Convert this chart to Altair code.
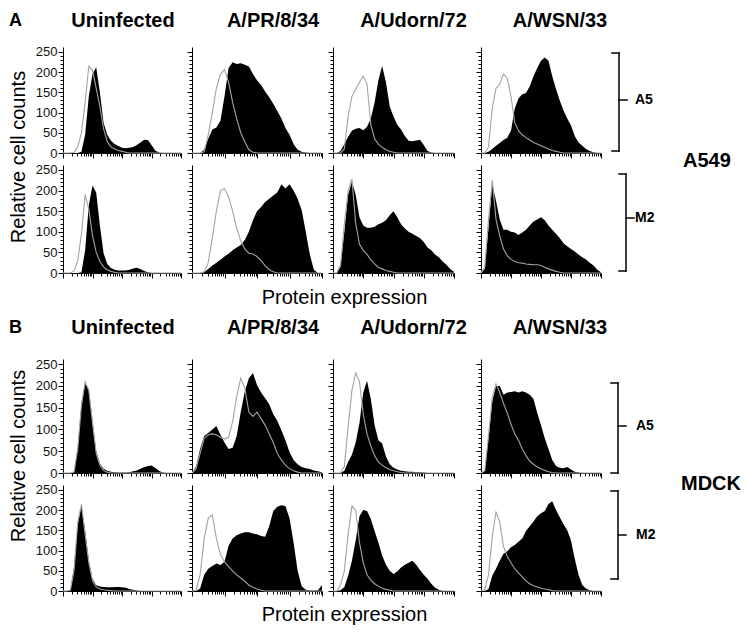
import pandas as pd
import altair as alt

# ---------------- data ----------------
# histogram bin centres on a log10 fluorescence axis (10^0 .. 10^4)
BINS = [0.0, 0.125, 0.25, 0.375, 0.5, 0.625, 0.75, 0.875,
        1.0, 1.125, 1.25, 1.375, 1.5, 1.625, 1.75, 1.875,
        2.0, 2.125, 2.25, 2.375, 2.5, 2.625, 2.75, 2.875,
        3.0, 3.125, 3.25, 3.375, 3.5, 3.625, 3.75, 3.875,
        4.0]

COLUMNS = ["Uninfected", "A/PR/8/34", "A/Udorn/72", "A/WSN/33"]
Y_TICKS = [0, 10, 20, 30, 40, 50, 60, 70, 80, 90, 100, 110, 120, 130, 140,
           150, 160, 170, 180, 190, 200, 210, 220, 230, 240, 250]
LOG_MINOR = [0.0, 0.301, 0.477, 0.602, 0.699, 0.778, 0.845, 0.903, 0.954]
X_TICKS = [d + m for d in range(4) for m in LOG_MINOR] + [4.0]

# A549 / A5
a549_a5_uninf_fill = [0, 0, 0, 0, 0, 3, 45, 140, 195, 212, 150, 75, 45, 30, 22, 17,
                      13, 12, 13, 15, 20, 26, 33, 32, 20, 6, 1, 0, 0, 0, 0, 0, 0]
a549_a5_uninf_ctrl = [0, 0, 0, 2, 15, 50, 125, 215, 205, 160, 115, 60, 28, 15, 10, 6,
                      4, 2, 0, 0, 0, 0, 0, 0, 0, 0, 0, 0, 0, 0, 0, 0, 0]
a549_a5_pr8_fill = [0, 0, 0, 8, 35, 58, 63, 80, 140, 210, 224, 220, 222, 218, 214, 195,
                    180, 168, 152, 138, 122, 104, 85, 62, 45, 22, 8, 3, 1, 0, 0, 0, 0]
a549_a5_pr8_ctrl = [0, 0, 0, 3, 45, 100, 160, 195, 206, 175, 125, 85, 50, 28, 8, 2,
                    0, 0, 0, 0, 0, 0, 0, 0, 0, 0, 0, 0, 0, 0, 0, 0, 0]
a549_a5_udorn_fill = [0, 0, 5, 22, 40, 55, 60, 62, 56, 65, 85, 125, 180, 215, 175, 115,
                      90, 70, 58, 42, 30, 29, 31, 33, 20, 5, 1, 0, 0, 0, 0, 0, 0]
a549_a5_udorn_ctrl = [0, 0, 0, 10, 90, 140, 158, 175, 190, 170, 70, 35, 22, 14, 8, 4,
                      2, 0, 0, 0, 0, 0, 0, 0, 0, 0, 0, 0, 0, 0, 0, 0, 0]
a549_a5_wsn_fill = [0, 0, 3, 10, 18, 25, 32, 38, 55, 110, 135, 145, 148, 165, 190, 210,
                    228, 236, 228, 190, 158, 130, 105, 85, 68, 42, 26, 18, 10, 5, 2, 0, 0]
a549_a5_wsn_ctrl = [0, 0, 15, 110, 160, 170, 195, 185, 140, 75, 55, 45, 38, 32, 26, 22,
                    18, 14, 10, 6, 4, 2, 0, 0, 0, 0, 0, 0, 0, 0, 0, 0, 0]

# A549 / M2
a549_m2_uninf_fill = [0, 0, 0, 0, 0, 2, 55, 165, 212, 195, 115, 48, 22, 12, 8, 6,
                      6, 6, 8, 11, 13, 10, 5, 2, 0, 0, 0, 0, 0, 0, 0, 0, 0]
a549_m2_uninf_ctrl = [0, 0, 0, 5, 30, 95, 190, 155, 90, 50, 28, 15, 8, 4, 2, 0,
                      0, 0, 0, 0, 0, 0, 0, 0, 0, 0, 0, 0, 0, 0, 0, 0, 0]
a549_m2_pr8_fill = [0, 0, 0, 2, 10, 18, 25, 32, 40, 47, 55, 62, 68, 80, 100, 128,
                    150, 160, 172, 180, 188, 195, 215, 205, 215, 200, 180, 152, 100, 45, 8, 0, 0]
a549_m2_pr8_ctrl = [0, 0, 0, 3, 25, 85, 150, 200, 205, 185, 150, 108, 78, 58, 48, 46,
                    40, 30, 18, 8, 3, 0, 0, 0, 0, 0, 0, 0, 0, 0, 0, 0, 0]
a549_m2_udorn_fill = [0, 0, 15, 100, 190, 222, 190, 135, 115, 110, 110, 112, 118, 122, 128, 140,
                      150, 135, 118, 108, 100, 95, 90, 85, 75, 62, 55, 45, 38, 28, 20, 10, 3]
a549_m2_udorn_ctrl = [0, 0, 20, 120, 200, 228, 120, 70, 55, 45, 32, 22, 14, 10, 6, 4,
                      2, 0, 0, 0, 0, 0, 0, 0, 0, 0, 0, 0, 0, 0, 0, 0, 0]
a549_m2_wsn_fill = [0, 10, 110, 215, 175, 130, 105, 105, 100, 98, 92, 98, 105, 115, 125, 130,
                    135, 128, 115, 105, 95, 85, 72, 65, 58, 52, 45, 38, 33, 25, 18, 8, 2]
a549_m2_wsn_ctrl = [0, 15, 130, 225, 130, 90, 58, 42, 33, 28, 25, 24, 22, 21, 20, 20,
                    18, 14, 10, 7, 4, 2, 0, 0, 0, 0, 0, 0, 0, 0, 0, 0, 0]

# MDCK / A5
mdck_a5_uninf_fill = [0, 0, 0, 3, 60, 160, 205, 192, 120, 50, 22, 10, 5, 3, 2, 1,
                      1, 1, 2, 4, 6, 10, 13, 16, 17, 12, 5, 1, 0, 0, 0, 0, 0]
mdck_a5_uninf_ctrl = [0, 0, 0, 2, 55, 155, 210, 190, 115, 45, 18, 6, 2, 0, 0, 0,
                      0, 0, 0, 0, 0, 0, 0, 0, 0, 0, 0, 0, 0, 0, 0, 0, 0]
mdck_a5_pr8_fill = [0, 15, 55, 85, 92, 100, 108, 88, 70, 55, 58, 85, 140, 188, 218, 230,
                    202, 185, 172, 158, 135, 120, 98, 75, 48, 30, 20, 14, 11, 9, 6, 4, 2]
mdck_a5_pr8_ctrl = [0, 10, 45, 80, 88, 90, 88, 82, 78, 82, 118, 175, 218, 195, 140, 130,
                    140, 125, 110, 90, 70, 45, 30, 18, 10, 5, 2, 0, 0, 0, 0, 0, 0]
mdck_a5_udorn_fill = [0, 0, 0, 5, 25, 42, 70, 115, 185, 212, 170, 110, 75, 68, 38, 20,
                      12, 8, 5, 4, 3, 3, 2, 2, 1, 0, 0, 0, 0, 0, 0, 0, 0]
mdck_a5_udorn_ctrl = [0, 0, 0, 15, 105, 190, 230, 210, 135, 90, 62, 40, 25, 18, 12, 8,
                      5, 3, 1, 0, 0, 0, 0, 0, 0, 0, 0, 0, 0, 0, 0, 0, 0]
mdck_a5_wsn_fill = [0, 5, 80, 165, 200, 200, 180, 185, 186, 188, 185, 188, 185, 180, 170, 138,
                    110, 80, 55, 30, 16, 12, 11, 14, 8, 3, 1, 0, 0, 0, 0, 0, 0]
mdck_a5_wsn_ctrl = [0, 5, 85, 175, 205, 185, 160, 138, 112, 90, 75, 55, 40, 27, 20, 14,
                    10, 6, 3, 1, 0, 0, 0, 0, 0, 0, 0, 0, 0, 0, 0, 0, 0]

# MDCK / M2
mdck_m2_uninf_fill = [0, 0, 3, 60, 165, 210, 150, 75, 30, 14, 11, 10, 9, 9, 10, 10,
                      9, 8, 5, 3, 1, 0, 0, 0, 0, 0, 0, 0, 0, 0, 0, 0, 0]
mdck_m2_uninf_ctrl = [0, 0, 2, 50, 170, 215, 140, 70, 25, 10, 5, 3, 2, 1, 0, 0,
                      0, 0, 0, 0, 0, 0, 0, 0, 0, 0, 0, 0, 0, 0, 0, 0, 0]
mdck_m2_pr8_fill = [0, 0, 6, 40, 55, 62, 68, 64, 72, 112, 130, 138, 142, 145, 145, 142,
                    140, 136, 134, 160, 198, 208, 212, 210, 180, 120, 50, 12, 3, 1, 1, 2, 15]
mdck_m2_pr8_ctrl = [0, 2, 40, 130, 180, 188, 130, 90, 72, 60, 50, 40, 32, 24, 15, 9,
                    5, 2, 0, 0, 0, 0, 0, 0, 0, 0, 0, 0, 0, 0, 0, 0, 0]
mdck_m2_udorn_fill = [0, 0, 2, 10, 38, 75, 125, 185, 200, 198, 178, 148, 120, 88, 65, 50,
                      42, 48, 58, 65, 70, 75, 65, 52, 40, 30, 18, 8, 3, 0, 0, 0, 0]
mdck_m2_udorn_ctrl = [0, 0, 15, 50, 140, 210, 200, 120, 70, 40, 27, 18, 12, 7, 4, 2,
                      0, 0, 0, 0, 0, 0, 0, 0, 0, 0, 0, 0, 0, 0, 0, 0, 0]
mdck_m2_wsn_fill = [0, 0, 5, 38, 55, 75, 92, 98, 108, 114, 122, 130, 148, 160, 172, 185,
                    192, 198, 215, 222, 200, 182, 165, 150, 125, 80, 40, 15, 6, 2, 0, 0, 0]
mdck_m2_wsn_ctrl = [0, 3, 40, 135, 195, 170, 110, 85, 70, 55, 45, 35, 25, 18, 13, 10,
                    7, 5, 3, 1, 0, 0, 0, 0, 0, 0, 0, 0, 0, 0, 0, 0, 0]

# ---------------- styling / layout ----------------
FONT = "Liberation Sans"
GRAY = "#a3a3a3"
COL_W = [118, 130, 121, 120]
SPACER_W = 5
TITLE_X = [60, 81, 80.5, 79]


def x_axis():
    return alt.Axis(values=X_TICKS, labels=False, title="", grid=False,
                    domainColor="black", domainWidth=1, tickColor="black", tickWidth=1,
                    tickSize={"condition": {"test": "abs(datum.value - round(datum.value)) < 0.01",
                                            "value": 5}, "value": 3})


def y_axis(show):
    return alt.Axis(values=Y_TICKS, labels=show, labelOverlap=False, labelFlush=False,
                    labelExpr="datum.value % 50 === 0 ? datum.label : ''",
                    labelFont=FONT, labelFontSize=13, labelColor="#111", labelPadding=1,
                    title="", grid=False, domainColor="black", domainWidth=1,
                    tickColor="black", tickWidth=1,
                    tickSize={"condition": {"test": "datum.value % 50 === 0", "value": 5},
                              "value": 3})


def label(txt, x, y, size, weight="bold", align="center", baseline="alphabetic", angle=0):
    kw = dict(align=align, baseline=baseline, font=FONT, fontSize=size,
              fontWeight=weight, color="black")
    if angle:
        kw["angle"] = angle
    return alt.Chart(pd.DataFrame({"t": [txt]})).mark_text(**kw).encode(
        text="t:N", x=alt.value(x), y=alt.value(y))


def bracket(xv, y0, y1, ym, hook=7, tick=8):
    r = alt.Chart(pd.DataFrame({"k": [0]})).mark_rule(color="black", strokeWidth=1.5,
                                                       strokeCap="square")
    return [
        r.encode(x=alt.value(xv), y=alt.value(y0), y2=alt.value(y1)),
        r.encode(x=alt.value(xv - hook), x2=alt.value(xv), y=alt.value(y0)),
        r.encode(x=alt.value(xv - hook), x2=alt.value(xv), y=alt.value(y1)),
        r.encode(x=alt.value(xv), x2=alt.value(xv + tick), y=alt.value(ym)),
    ]


def panel(fill, ctrl, w, h, show_y, extra):
    df = pd.DataFrame({"bin": BINS, "fill": fill, "ctrl": ctrl})
    xs = alt.Scale(domain=[0, 4], nice=False, zero=False)
    ys = alt.Scale(domain=[0, 262], nice=False)
    base = alt.Chart(df)
    area = base.mark_area(color="black", interpolate="linear").encode(
        x=alt.X("bin:Q", scale=xs, axis=x_axis()),
        y=alt.Y("fill:Q", scale=ys, axis=y_axis(show_y)))
    line = base.mark_line(color=GRAY, strokeWidth=1.1).encode(
        x=alt.X("bin:Q", scale=xs, axis=x_axis()),
        y=alt.Y("ctrl:Q", scale=ys, axis=y_axis(show_y)))
    return alt.layer(area, line, *extra).properties(width=w, height=h)


def spacer(w, h):
    return alt.Chart(pd.DataFrame({"k": [0]})).mark_point(opacity=0).encode(
        x=alt.value(0), y=alt.value(0)).properties(width=w, height=h)


ROWS = [
    dict(h=106, fills=[a549_a5_uninf_fill, a549_a5_pr8_fill, a549_a5_udorn_fill, a549_a5_wsn_fill],
         ctrls=[a549_a5_uninf_ctrl, a549_a5_pr8_ctrl, a549_a5_udorn_ctrl, a549_a5_wsn_ctrl]),
    dict(h=108, fills=[a549_m2_uninf_fill, a549_m2_pr8_fill, a549_m2_udorn_fill, a549_m2_wsn_fill],
         ctrls=[a549_m2_uninf_ctrl, a549_m2_pr8_ctrl, a549_m2_udorn_ctrl, a549_m2_wsn_ctrl]),
    dict(h=114, fills=[mdck_a5_uninf_fill, mdck_a5_pr8_fill, mdck_a5_udorn_fill, mdck_a5_wsn_fill],
         ctrls=[mdck_a5_uninf_ctrl, mdck_a5_pr8_ctrl, mdck_a5_udorn_ctrl, mdck_a5_wsn_ctrl]),
    dict(h=106, fills=[mdck_m2_uninf_fill, mdck_m2_pr8_fill, mdck_m2_udorn_fill, mdck_m2_wsn_fill],
         ctrls=[mdck_m2_uninf_ctrl, mdck_m2_pr8_ctrl, mdck_m2_udorn_ctrl, mdck_m2_wsn_ctrl]),
]

# annotations per (row, column)
EXTRA = {
    (0, 0): [label("A", -54, -21, 18, align="left"),
             label("Relative cell counts", -44, 110, 20, weight="normal",
                   baseline="middle", angle=270)],
    (0, 3): bracket(138, 6, 104, 53) + [label("A5", 154, 53, 14, align="left", baseline="middle"),
                                        label("A549", 202, 114, 20, align="left", baseline="middle")],
    (1, 1): [label("Protein expression", 152.5, 139, 20, weight="normal")],
    (1, 3): bracket(145, 9, 106, 53) + [label("M2", 154, 53, 14, align="left", baseline="middle")],
    (2, 0): [label("B", -54, -26, 18, align="left"),
             label("Relative cell counts", -44, 97, 20, weight="normal",
                   baseline="middle", angle=270)],
    (2, 3): bracket(137, 24, 114, 67) + [label("A5", 155, 67, 14, align="left", baseline="middle"),
                                         label("MDCK", 200, 125, 20, align="left", baseline="middle")],
    (3, 1): [label("Protein expression", 152.5, 136, 20, weight="normal")],
    (3, 3): bracket(137, 6, 94, 50) + [label("M2", 155, 50, 14, align="left", baseline="middle")],
}
TITLE_Y = {0: -20, 2: -25}

cells = []
for r, spec in enumerate(ROWS):
    if r == 2:
        cells += [spacer(SPACER_W, 62) for _ in range(5)]
    for c in range(4):
        extra = list(EXTRA.get((r, c), []))
        if r in TITLE_Y:
            extra.append(label(COLUMNS[c], TITLE_X[c], TITLE_Y[r], 20))
        p = panel(spec["fills"][c], spec["ctrls"][c], COL_W[c], spec["h"], c == 0, extra)
        if c == 3:
            cells.append(spacer(SPACER_W, spec["h"]))
        cells.append(p)

chart = alt.concat(*cells, columns=5, spacing={"row": 12, "column": 11},
                   align="each", bounds="flush").properties(
    padding={"top": 3, "left": 0, "right": 0, "bottom": 0}).configure_view(strokeWidth=0)

chart.save("out.html", embed_options={"renderer": "svg", "actions": False})
